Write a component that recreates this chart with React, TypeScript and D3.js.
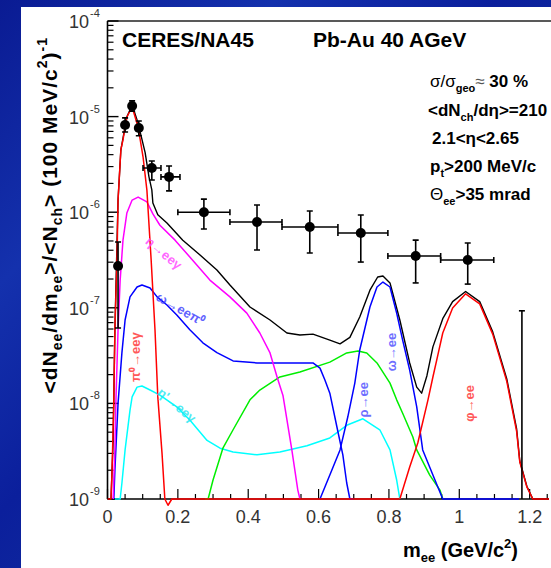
import React from "react";
import * as d3 from "d3";

const W = 551;
const H = 568;
const FRAME = { left: 107.5, right: 549, top: 21, bottom: 499 };
const FONT = "'Liberation Sans', Arial, Helvetica, sans-serif";

// Measured dielectron yield (mass in GeV/c^2)
const dataMass = [0.03, 0.05, 0.07, 0.089, 0.126, 0.175, 0.274, 0.425, 0.575, 0.72, 0.876, 1.024, 1.178];
const dataYield = [2.74e-7, 8.17e-6, 1.29e-5, 7.6e-6, 2.9e-6, 2.34e-6, 1.0e-6, 7.9e-7, 7.0e-7, 6.05e-7, 3.48e-7, 3.16e-7, 5e-10];
const dataYieldHigh = [4.88e-7, 9.7e-6, 1.46e-5, 9.0e-6, 3.43e-6, 3.04e-6, 1.37e-6, 1.19e-6, 1.03e-6, 9.35e-7, 5.1e-7, 4.76e-7, 9.3e-8];
const dataYieldLow = [6.15e-8, 6.9e-6, 1.14e-5, 6.3e-6, 2.17e-6, 1.67e-6, 6.67e-7, 4.03e-7, 3.74e-7, 3.01e-7, 1.82e-7, 1.77e-7, 1e-10];
const binLow = [0.03, 0.05, 0.07, 0.089, 0.101, 0.152, 0.2, 0.348, 0.496, 0.655, 0.797, 0.947, 1.098];
const binHigh = [0.03, 0.05, 0.07, 0.089, 0.152, 0.206, 0.348, 0.496, 0.655, 0.797, 0.947, 1.098, 1.255];

// Hadronic cocktail sources
const cocktailSum: [number, number][] = [
  [0.0, 1e-9], [0.01, 1e-9], [0.016, 4.1e-9], [0.021, 5.9e-8], [0.03, 1.34e-6], [0.038, 4.5e-6],
  [0.055, 9.9e-6], [0.07, 1.32e-5], [0.084, 9.2e-6], [0.095, 6.4e-6], [0.107, 4.2e-6], [0.118, 2.33e-6],
  [0.126, 1.71e-6], [0.129, 1.25e-6], [0.143, 9.4e-7], [0.169, 7.7e-7], [0.214, 5.1e-7], [0.263, 3.56e-7],
  [0.311, 2.49e-7], [0.348, 1.73e-7], [0.405, 1.02e-7], [0.462, 7.45e-8], [0.51, 5.45e-8], [0.547, 5.2e-8],
  [0.584, 5.3e-8], [0.632, 4.6e-8], [0.661, 4.2e-8], [0.689, 4.9e-8], [0.717, 8.0e-8], [0.746, 1.53e-7],
  [0.768, 2.1e-7], [0.783, 2.15e-7], [0.803, 1.82e-7], [0.831, 7.45e-8], [0.859, 2.65e-8], [0.879, 1.48e-8],
  [0.893, 1.28e-8], [0.908, 1.95e-8], [0.925, 3.9e-8], [0.953, 7.7e-8], [0.981, 1.16e-7], [1.018, 1.48e-7],
  [1.058, 1.16e-7], [1.095, 5.6e-8], [1.135, 1.8e-8], [1.163, 5.4e-9], [1.172, 2.5e-9], [1.192, 1.36e-9],
  [1.209, 1e-9], [1.255, 1e-9],
];

const pi0Dalitz: [number, number][] = [
  [0.0, 1e-9], [0.01, 1e-9], [0.013, 2.0e-9], [0.018, 1.1e-8], [0.021, 5.9e-8], [0.027, 3.2e-7],
  [0.03, 1.34e-6], [0.038, 4.5e-6], [0.044, 5.7e-6], [0.055, 9.9e-6], [0.07, 1.26e-5], [0.087, 7.8e-6],
  [0.101, 3.8e-6], [0.112, 1.7e-6], [0.124, 3.2e-7], [0.135, 5.9e-8], [0.143, 1.17e-8], [0.155, 3.0e-9],
  [0.163, 1e-9], [0.172, 8.6e-10], [0.183, 1e-9], [0.83, 1e-9],
];

const etaDalitz: [number, number][] = [
  [0.016, 1e-9], [0.021, 3.3e-9], [0.024, 1.09e-8], [0.03, 5.9e-8], [0.036, 1.95e-7], [0.044, 5.1e-7],
  [0.055, 9.8e-7], [0.07, 1.34e-6], [0.087, 1.44e-6], [0.112, 1.28e-6], [0.129, 9.6e-7], [0.149, 7.3e-7],
  [0.192, 5.1e-7], [0.234, 3.4e-7], [0.291, 1.95e-7], [0.348, 1.3e-7], [0.396, 8.8e-8], [0.433, 5.45e-8],
  [0.462, 3.37e-8], [0.482, 1.89e-8], [0.499, 1.2e-8], [0.524, 3.26e-9], [0.541, 1.24e-9], [0.547, 1e-9],
];

const omegaDalitz: [number, number][] = [
  [0.018, 1e-9], [0.021, 2.0e-9], [0.03, 1.0e-8], [0.041, 3.4e-8], [0.05, 7.45e-8], [0.064, 1.3e-7],
  [0.084, 1.65e-7], [0.098, 1.73e-7], [0.121, 1.61e-7], [0.141, 1.3e-7], [0.169, 1.07e-7], [0.197, 8.4e-8],
  [0.234, 5.9e-8], [0.271, 4.3e-8], [0.311, 3.4e-8], [0.357, 2.78e-8], [0.425, 2.65e-8], [0.518, 2.65e-8],
  [0.584, 2.65e-8], [0.604, 2.34e-8], [0.618, 1.76e-8], [0.632, 1.28e-8], [0.652, 5.7e-9], [0.669, 2.9e-9],
  [0.68, 1.47e-9], [0.689, 1e-9], [0.7, 1e-9],
];

const etaPrimeDalitz: [number, number][] = [
  [0.021, 1e-9], [0.036, 1e-9], [0.041, 1.47e-9], [0.05, 3.26e-9], [0.064, 8.5e-9], [0.07, 1.17e-8],
  [0.084, 1.48e-8], [0.098, 1.52e-8], [0.121, 1.38e-8], [0.149, 1.22e-8], [0.197, 9.2e-9], [0.234, 6.7e-9],
  [0.283, 4.1e-9], [0.32, 3.4e-9], [0.357, 3.1e-9], [0.425, 2.9e-9], [0.49, 3.1e-9], [0.567, 3.6e-9],
  [0.632, 4.35e-9], [0.68, 5.9e-9], [0.726, 6.9e-9], [0.774, 5.3e-9], [0.803, 3.26e-9], [0.822, 1.58e-9],
  [0.831, 1e-9],
];

const rhoDirect: [number, number][] = [
  [0.277, 1e-9], [0.286, 1e-9], [0.3, 1.58e-9], [0.328, 3.4e-9], [0.357, 5.3e-9], [0.405, 1.09e-8],
  [0.433, 1.38e-8], [0.49, 1.89e-8], [0.547, 2.13e-8], [0.632, 2.7e-8], [0.68, 3.37e-8], [0.712, 3.53e-8],
  [0.737, 3.37e-8], [0.766, 2.65e-8], [0.803, 1.63e-8], [0.822, 1.09e-8], [0.839, 7.9e-9], [0.868, 4.45e-9],
  [0.879, 3.26e-9], [0.916, 1.78e-9], [0.945, 1.24e-9], [0.953, 1e-9],
];

const omegaDirect: [number, number][] = [
  [0.604, 1e-9], [0.632, 1.78e-9], [0.661, 3.26e-9], [0.683, 7.2e-9], [0.703, 1.63e-8], [0.717, 3.62e-8],
  [0.746, 1.02e-7], [0.766, 1.65e-7], [0.783, 1.86e-7], [0.803, 1.65e-7], [0.822, 8.8e-8], [0.839, 4.6e-8],
  [0.859, 2.23e-8], [0.879, 9.2e-9], [0.896, 3.26e-9], [0.925, 1.78e-9], [0.953, 1e-9], [1.17, 1e-9],
];

const phiDirect: [number, number][] = [
  [0.831, 1e-9], [0.859, 2.16e-9], [0.882, 3.85e-9], [0.911, 1.09e-8], [0.925, 1.89e-8], [0.939, 3.2e-8],
  [0.953, 5.45e-8], [0.981, 9.95e-8], [1.018, 1.4e-7], [1.058, 1.1e-7], [1.095, 5.3e-8], [1.135, 1.7e-8],
  [1.163, 5.1e-9], [1.172, 2.44e-9], [1.192, 1.34e-9], [1.209, 1e-9], [1.255, 1e-9],
];

const xTickValues = [0, 0.2, 0.4, 0.6, 0.8, 1.0, 1.2];
const xTickLabels = ["0", "0.2", "0.4", "0.6", "0.8", "1", "1.2"];
const yDecades = [-9, -8, -7, -6, -5, -4];

const x = d3.scaleLinear().domain([0, 1.255]).range([FRAME.left, FRAME.right]);
const y = d3.scaleLog().domain([1e-9, 1e-4]).range([FRAME.bottom, FRAME.top]);

const line = d3
  .line<[number, number]>()
  .x((d) => x(d[0]))
  .y((d) => y(d[1]));

const curves: { data: [number, number][]; color: string; width: number }[] = [
  { data: cocktailSum, color: "#000000", width: 1.4 },
  { data: etaPrimeDalitz, color: "#00ffff", width: 1.5 },
  { data: rhoDirect, color: "#00ee00", width: 1.5 },
  { data: omegaDalitz, color: "#0000ff", width: 1.5 },
  { data: omegaDirect, color: "#0000ff", width: 1.5 },
  { data: etaDalitz, color: "#ff00ff", width: 1.5 },
  { data: phiDirect, color: "#ff0000", width: 1.5 },
  { data: pi0Dalitz, color: "#ff0000", width: 1.5 },
];

const curveLabels = [
  { text: "π⁰→eeγ", x: 0.084, v: 3.05e-8, angle: -90, color: "#ff3030" },
  { text: "η→eeγ", x: 0.158, v: 3.66e-7, angle: 40, color: "#ff44ff" },
  { text: "ω→eeπ⁰", x: 0.206, v: 9.5e-8, angle: 30, color: "#3a3aff" },
  { text: "η'→eeγ", x: 0.195, v: 9.4e-9, angle: 40, color: "#22e6f0" },
  { text: "ρ→ee", x: 0.732, v: 1.09e-8, angle: -90, color: "#4a4aff" },
  { text: "ω→ee", x: 0.811, v: 3.45e-8, angle: -90, color: "#4a4aff" },
  { text: "φ→ee", x: 1.033, v: 1.0e-8, angle: -90, color: "#ff3030" },
];

function yMinorTicks(): number[] {
  const out: number[] = [];
  for (let e = -9; e < -4; e++) {
    for (let k = 2; k <= 9; k++) out.push(k * Math.pow(10, e));
  }
  return out;
}

function xMinorTicks(): number[] {
  const out: number[] = [];
  for (let i = 0; i <= 25; i++) out.push(i * 0.05);
  return out;
}

export default function App() {
  const cap = 3;
  return (
    <svg
      width={W}
      height={H}
      viewBox={`0 0 ${W} ${H}`}
      style={{ position: "absolute", left: 0, top: 0, display: "block" }}
      fontFamily={FONT}
    >
      <defs>
        <linearGradient id="bg" x1="0" y1="0" x2="1" y2="1">
          <stop offset="0" stopColor="#0a1b93" />
          <stop offset="0.25" stopColor="#1431ad" />
          <stop offset="0.45" stopColor="#0b1f9c" />
          <stop offset="0.7" stopColor="#12309f" />
          <stop offset="1" stopColor="#0a1c95" />
        </linearGradient>
        <clipPath id="plotClip">
          <rect x={FRAME.left} y={FRAME.top} width={FRAME.right - FRAME.left + 2} height={FRAME.bottom - FRAME.top} />
        </clipPath>
        <clipPath id="curveClip">
          <rect x={FRAME.left} y={FRAME.top} width={FRAME.right - FRAME.left + 2} height={FRAME.bottom - FRAME.top + 10} />
        </clipPath>
      </defs>

      <rect x={0} y={0} width={W} height={H} fill="url(#bg)" />
      <rect x={21} y={7} width={W - 21} height={H - 7} fill="#ffffff" />

      {/* frame */}
      <line x1={FRAME.left} x2={W} y1={FRAME.top} y2={FRAME.top} stroke="#222" strokeWidth={1.6} />
      <line x1={FRAME.left} x2={FRAME.left} y1={FRAME.top} y2={FRAME.bottom} stroke="#000" strokeWidth={1.6} />
      <line x1={FRAME.left} x2={FRAME.right} y1={FRAME.bottom} y2={FRAME.bottom} stroke="#000" strokeWidth={1.6} />

      {/* y ticks */}
      {yDecades.map((e) => (
        <line key={`ym${e}`} x1={FRAME.left} x2={FRAME.left + 11} y1={y(Math.pow(10, e))} y2={y(Math.pow(10, e))} stroke="#000" strokeWidth={1.4} />
      ))}
      {yMinorTicks().map((v, i) => (
        <line key={`yn${i}`} x1={FRAME.left} x2={FRAME.left + 6} y1={y(v)} y2={y(v)} stroke="#000" strokeWidth={1.2} />
      ))}
      {/* x ticks */}
      {xMinorTicks().map((v, i) => {
        const major = i % 4 === 0;
        return (
          <line key={`xt${i}`} x1={x(v)} x2={x(v)} y1={FRAME.bottom} y2={FRAME.bottom - (major ? 10 : 5)} stroke="#000" strokeWidth={1.2} />
        );
      })}

      {/* tick labels */}
      {xTickValues.map((v, i) => (
        <text key={`xl${i}`} x={x(v)} y={523} textAnchor="middle" fontSize={18} fill="#333">
          {xTickLabels[i]}
        </text>
      ))}
      {yDecades.map((e) => (
        <g key={`yl${e}`}>
          <text x={89} y={y(Math.pow(10, e)) + 7} textAnchor="end" fontSize={18} fill="#333">
            10
          </text>
          <text x={90} y={y(Math.pow(10, e)) - 4} fontSize={11} fill="#333">
            {`${e}`}
          </text>
        </g>
      ))}

      {/* cocktail curves */}
      <g clipPath="url(#curveClip)" fill="none">
        {curves.map((c, i) => (
          <path key={`c${i}`} d={line(c.data) || ""} stroke={c.color} strokeWidth={c.width} strokeLinejoin="round" />
        ))}
      </g>

      {/* curve labels */}
      {curveLabels.map((l, i) => (
        <text
          key={`cl${i}`}
          transform={`translate(${x(l.x)},${y(l.v)}) rotate(${l.angle})`}
          textAnchor="middle"
          dominantBaseline="middle"
          fontSize={13}
          fontWeight="bold"
          fill={l.color}
          opacity={0.8}
        >
          {l.text}
        </text>
      ))}

      {/* data points */}
      <g clipPath="url(#plotClip)" stroke="#000" strokeWidth={1.6}>
        {dataMass.map((m, i) => {
          const cx = x(m);
          const cy = y(dataYield[i]);
          const yh = y(dataYieldHigh[i]);
          const yl = y(dataYieldLow[i]);
          const xl = x(binLow[i]);
          const xh = x(binHigh[i]);
          return (
            <g key={`p${i}`}>
              <line x1={cx} x2={cx} y1={yh} y2={yl} />
              <line x1={cx - cap} x2={cx + cap} y1={yh} y2={yh} />
              <line x1={cx - cap} x2={cx + cap} y1={yl} y2={yl} />
              {xh - xl > 1 && (
                <>
                  <line x1={xl} x2={xh} y1={cy} y2={cy} />
                  <line x1={xl} x2={xl} y1={cy - cap} y2={cy + cap} />
                  <line x1={xh} x2={xh} y1={cy - cap} y2={cy + cap} />
                </>
              )}
              <circle cx={cx} cy={cy} r={5} fill="#000" stroke="none" />
            </g>
          );
        })}
      </g>

      {/* titles */}
      <text x={122} y={47} fontSize={21} fontWeight="bold" fill="#000">CERES/NA45</text>
      <text x={313} y={47} fontSize={21} fontWeight="bold" fill="#000">Pb-Au 40 AGeV</text>

      <g fontSize={17} fontWeight="bold" fill="#000">
        <text x={430} y={87}>
          <tspan fontWeight="normal">σ/σ</tspan>
          <tspan fontSize={11} dy={5}>geo</tspan>
          <tspan dy={-5} fontWeight="normal" fill="#555">≈</tspan>
          <tspan> 30 %</tspan>
        </text>
        <text x={428} y={116}>
          <tspan>&lt;dN</tspan>
          <tspan fontSize={11} dy={5}>ch</tspan>
          <tspan dy={-5}>/dη&gt;=210</tspan>
        </text>
        <text x={432} y={144}>2.1&lt;η&lt;2.65</text>
        <text x={430} y={172}>
          <tspan>p</tspan>
          <tspan fontSize={11} dy={5}>t</tspan>
          <tspan dy={-5}>&gt;200 MeV/c</tspan>
        </text>
        <text x={430} y={200}>
          <tspan fontWeight="normal">Θ</tspan>
          <tspan fontSize={11} dy={5}>ee</tspan>
          <tspan dy={-5}>&gt;35 mrad</tspan>
        </text>
      </g>

      {/* axis titles */}
      <text x={518} y={557} textAnchor="end" fontSize={20} fontWeight="bold" fill="#000">
        <tspan>m</tspan>
        <tspan fontSize={13} dy={5}>ee</tspan>
        <tspan dy={-5}> (GeV/c</tspan>
        <tspan fontSize={13} dy={-9}>2</tspan>
        <tspan dy={9}>)</tspan>
      </text>
      <text
        transform="translate(57,37) rotate(-90)"
        textAnchor="end"
        fontSize={21}
        fontWeight="bold"
        fill="#000"
        letterSpacing={1}
      >
        <tspan>&lt;dN</tspan>
        <tspan fontSize={14} dy={5}>ee</tspan>
        <tspan dy={-5}>/dm</tspan>
        <tspan fontSize={14} dy={5}>ee</tspan>
        <tspan dy={-5}>&gt;/&lt;N</tspan>
        <tspan fontSize={14} dy={5}>ch</tspan>
        <tspan dy={-5}>&gt; (100 MeV/c</tspan>
        <tspan fontSize={14} dy={-10}>2</tspan>
        <tspan dy={10}>)</tspan>
        <tspan fontSize={14} dy={-10}>-1</tspan>
      </text>
    </svg>
  );
}
